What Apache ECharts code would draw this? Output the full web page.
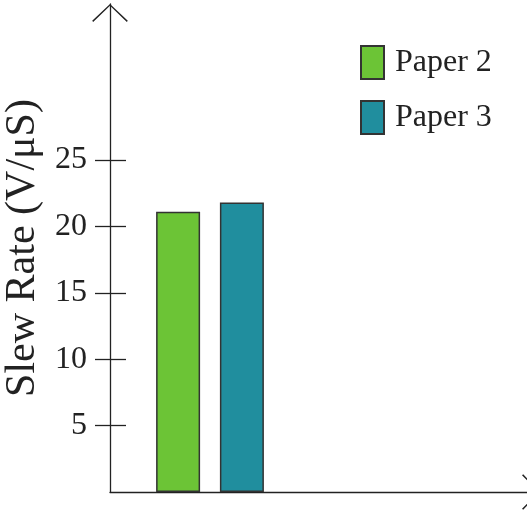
<!DOCTYPE html>
<html><head><meta charset="utf-8">
<script src="https://cdn.jsdelivr.net/npm/echarts@6/dist/echarts.min.js"></script>
<style>html,body{margin:0;padding:0;background:#fff}#c{width:527px;height:510px}</style>
</head><body><div id="c"></div>
<script>
const categories = ['Slew Rate'];
const seriesNames = ['Paper 2', 'Paper 3'];
const paper2 = [21.1];
const paper3 = [21.8];
const tickValues = [5, 10, 15, 20, 25];

const FONT = 'Liberation Serif';
const INK = '#222';
const chevron = 'path://M18,0 L36,17 L35,18.2 L18,1.8 L1,18.2 L0,17 Z';

const chart = echarts.init(document.getElementById('c'), null, {renderer: 'canvas'});
chart.setOption({
  animation: false,
  backgroundColor: '#fff',
  grid: [
    {left: 110, right: 17, top: 4, bottom: 18, containLabel: false, outerBoundsMode: 'none'},
    {left: 110, right: -13, top: 4, bottom: 18, containLabel: false, outerBoundsMode: 'none'}
  ],
  legend: {
    orient: 'vertical', left: 360, top: 45, padding: 0,
    itemWidth: 23, itemHeight: 33, itemGap: 20,
    icon: 'rect',
    textStyle: {fontFamily: FONT, fontSize: 32, color: INK, padding: [0, 0, 0, 6]},
    data: seriesNames
  },
  xAxis: [{
    gridIndex: 0, type: 'category', data: categories, max: 1,
    axisLine: {show: false},
    axisTick: {show: false}, axisLabel: {show: false}, splitLine: {show: false}
  }, {
    gridIndex: 1, type: 'value', min: 0, max: 1,
    axisLine: {show: true, lineStyle: {color: INK, width: 1.3}, symbol: ['none', chevron], symbolSize: [36, 18], symbolOffset: [0, -9]},
    axisTick: {show: false}, axisLabel: {show: false}, splitLine: {show: false}
  }],
  yAxis: [{
    gridIndex: 0, type: 'value', min: 0, max: 36.75, interval: 5,
    name: 'Slew Rate (V/μS)', nameLocation: 'middle', nameGap: 65,
    nameTextStyle: {fontFamily: FONT, fontSize: 42, color: INK},
    axisLine: {show: true, lineStyle: {color: INK, width: 1.3}, symbol: ['none', chevron], symbolSize: [36, 18], symbolOffset: [0, -9]},
    axisTick: {show: true, inside: false, length: 15, customValues: tickValues, lineStyle: {color: INK, width: 1.3}},
    axisLabel: {customValues: tickValues, margin: 23, fontFamily: FONT, fontSize: 32, color: INK},
    splitLine: {show: false}
  }, {
    gridIndex: 0, type: 'value', min: 0, max: 36.75, interval: 5, position: 'left',
    axisLine: {show: false},
    axisTick: {show: true, inside: true, length: 16, customValues: tickValues, lineStyle: {color: INK, width: 1.3}},
    axisLabel: {show: false}, splitLine: {show: false}
  }, {
    gridIndex: 1, type: 'value', min: 0, max: 1, show: false
  }],
  series: [{
    name: seriesNames[0], type: 'bar', data: paper2, barWidth: 44, barGap: '45%',
    xAxisIndex: 0, yAxisIndex: 0,
    itemStyle: {color: '#6cc436', borderColor: '#333', borderWidth: 1.5}
  }, {
    name: seriesNames[1], type: 'bar', data: paper3, barWidth: 44, barGap: '45%',
    xAxisIndex: 0, yAxisIndex: 0,
    itemStyle: {color: '#208e9e', borderColor: '#333', borderWidth: 1.5}
  }]
});
</script></body></html>
